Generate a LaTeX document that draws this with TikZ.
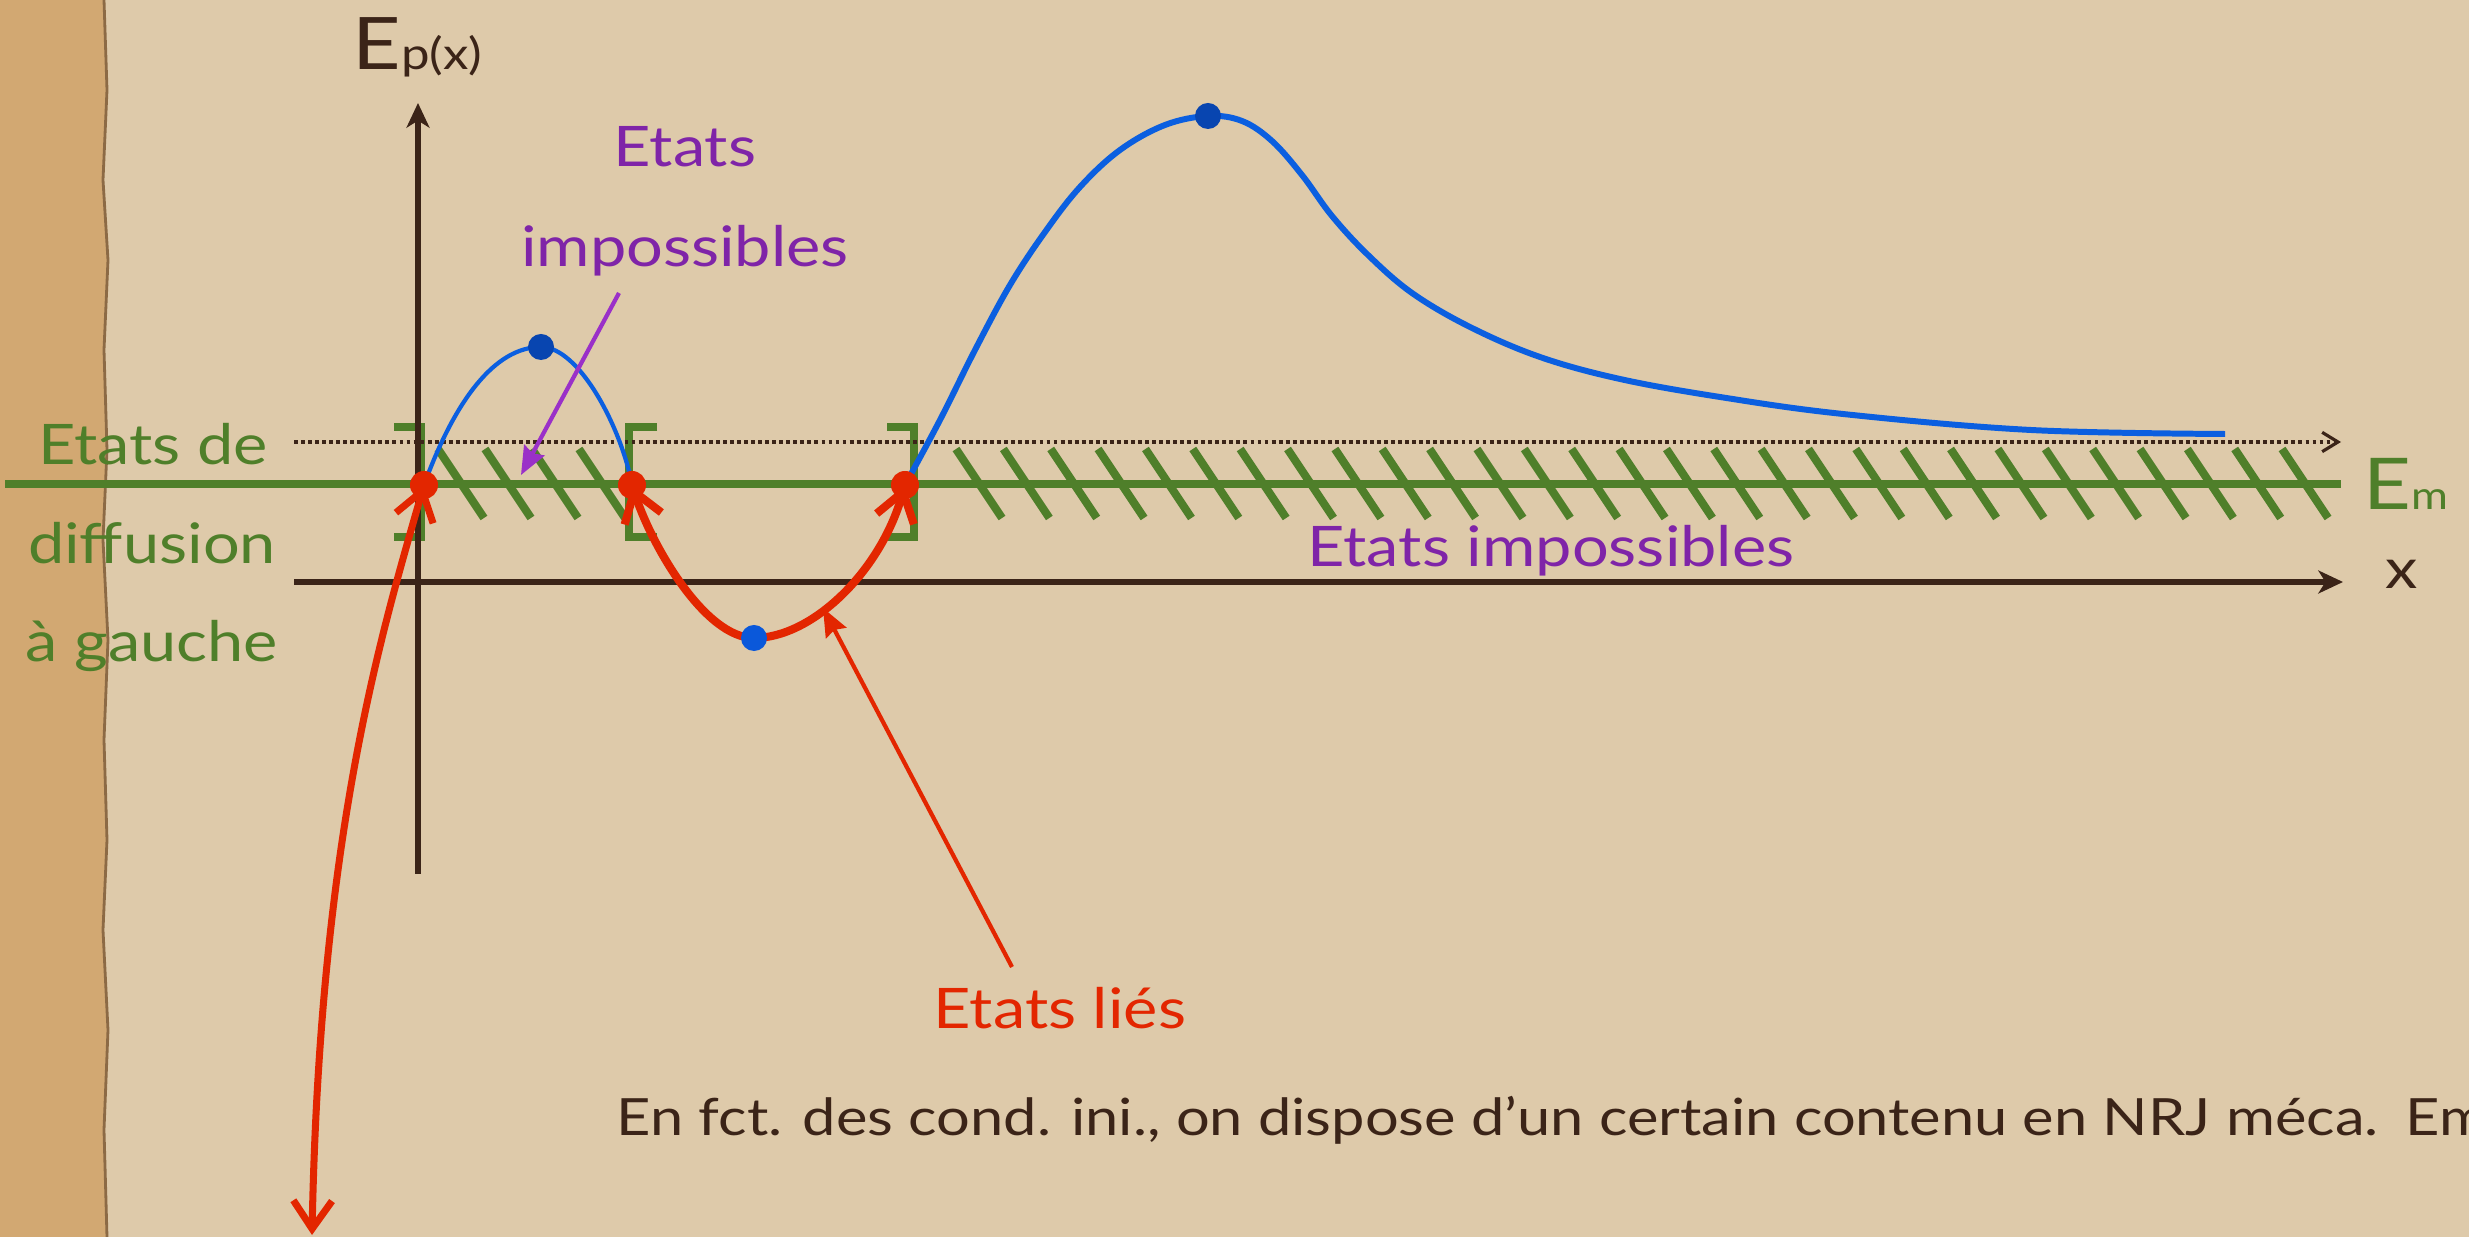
\documentclass[tikz,border=0pt]{standalone}
\usepackage{fontspec}
\setmainfont{Lato}[FakeStretch=1.16]
\usetikzlibrary{arrows.meta}
\definecolor{paper}{HTML}{DECAAA}
\definecolor{sand}{HTML}{D2A872}
\definecolor{sandedge}{HTML}{8C6A45}
\definecolor{axisbrown}{HTML}{3B2418}
\definecolor{emgreen}{HTML}{4F7F2A}
\definecolor{curveblue}{HTML}{0B5FE0}
\definecolor{dotblue}{HTML}{0845B0}
\definecolor{dotblueb}{HTML}{0A58DA}
\definecolor{redc}{HTML}{E32600}
\definecolor{purplec}{HTML}{7F24A8}
\definecolor{purplearrow}{HTML}{9A30C8}
\begin{document}
\begin{tikzpicture}[x=0.01cm,y=-0.01cm,
  txt/.style={inner sep=0pt, font=\fontsize{15.9}{19}\selectfont},
  axisline/.style={axisbrown, line width=1.6pt, -{Stealth[length=7pt,width=6.5pt,inset=2pt]}},
  hatchline/.style={emgreen, line width=2.3pt},
  bracketline/.style={emgreen, line width=2.4pt},
  barbline/.style={redc, line width=2pt, {Straight Barb[length=8pt,width=11pt]}-{Straight Barb[length=8pt,width=11pt]}},
  pointer/.style={line width=1.2pt, -{Stealth[length=8pt,width=6.5pt,inset=1pt]}},
  reddot/.style={circle, fill=redc, inner sep=0pt, minimum size=0.28cm},
  bluedot/.style={circle, fill=dotblue, inner sep=0pt, minimum size=0.26cm},
]
\useasboundingbox (0,0) rectangle (2469,1237);
\clip (0,0) rectangle (2469,1237);
% background
\fill[paper] (0,0) rectangle (2469,1237);
\fill[sand] (0,0) -- (104,0) -- (107,90) -- (103,180) -- (108,260) -- (104,350) -- (107,450) -- (103,540) -- (108,640) -- (104,740) -- (107,840) -- (103,930) -- (108,1030) -- (104,1130) -- (107,1237) -- (0,1237) -- cycle;
\draw[sandedge, line width=0.8pt] (104,0) -- (107,90) -- (103,180) -- (108,260) -- (104,350) -- (107,450) -- (103,540) -- (108,640) -- (104,740) -- (107,840) -- (103,930) -- (108,1030) -- (104,1130) -- (107,1237);

% coordinates
\coordinate (emL) at (5,484);
\coordinate (emR) at (2341,484);
\coordinate (dotL) at (294,442);
\coordinate (dotR) at (2341,442);
\coordinate (xaxL) at (294,582);
\coordinate (xaxR) at (2343,582);
\coordinate (yaxB) at (418,874);
\coordinate (yaxT) at (418,103);
\coordinate (pA) at (424,485);
\coordinate (pB) at (632,485);
\coordinate (pC) at (905,485);
\coordinate (maxA) at (541,347);
\coordinate (minB) at (754,638);
\coordinate (maxC) at (1208,116);
\coordinate (bottomEnd) at (312,1235);

% energy level line and hatches
\draw[emgreen, line width=2.1pt] (emL) -- (emR);
\foreach \x in {438,485,532,579} \draw[hatchline] (\x,449) -- ++(46,69);
\foreach \k in {0,...,28} \draw[hatchline] ({956+47.36*\k},449) -- ++(46,69);

% brackets
\draw[bracketline] (394,427) -- (421,427) -- (421,537) -- (394,537);
\draw[bracketline] (657,427) -- (629,427) -- (629,537) -- (657,537);
\draw[bracketline] (887,427) -- (914,427) -- (914,537) -- (887,537);

% dotted line
\draw[axisbrown, line width=0.9pt, dash pattern=on 1.1pt off 0.9pt, -{Straight Barb[length=4.5pt,width=5.5pt]}] (dotL) -- (dotR);

% axes
\draw[axisline] (yaxB) -- (yaxT);
\draw[axisline] (xaxL) -- (xaxR);

% potential curve
\draw[curveblue, line width=1.2pt] (pA) .. controls (455,400) and (495,347) .. (maxA)
  .. controls (580,347) and (622,430) .. (pB)
  .. controls (652,546) and (705,638) .. (minB)
  .. controls (812,638) and (880,572) .. (pC);
\draw[curveblue, line width=1.7pt] plot[smooth, tension=0.6] coordinates {(905,485) (940,420) (975,350) (1010,285) (1045,232) (1080,187) (1120,150) (1165,125) (1208,116) (1242,121) (1272,141) (1302,175) (1332,216) (1368,255) (1412,293) (1470,327) (1540,357) (1620,379) (1720,397) (1843,414) (2031,430) (2225,434)};

% red arrows
\draw[barbline] (pA) .. controls (380.5,637) and (320,835) .. (bottomEnd);
\draw[barbline, line width=2.3pt] (pB) .. controls (652,546) and (705,638) .. (minB)
  .. controls (812,638) and (880,572) .. (pC);

% dots
\node[reddot] (dA) at (pA) {};
\node[reddot] (dB) at (pB) {};
\node[reddot] (dC) at (pC) {};
\node[bluedot] (bA) at (maxA) {};
\node[bluedot, fill=dotblueb] (bB) at (minB) {};
\node[bluedot] (bC) at (maxC) {};

% labels
\node[inner sep=0pt, anchor=base west, text=axisbrown] (Ep) at (352,70) {\fontsize{20.6}{22}\selectfont E\fontsize{12.5}{14}\selectfont p(x)};
\node[inner sep=0pt, anchor=base west, text=emgreen] (Em) at (2363,510) {\fontsize{20.3}{22}\selectfont E\fontsize{11}{13}\selectfont m};
\node[txt, anchor=base, text=axisbrown] (xlab) at (2402,589) {x};
\node[txt, anchor=base, text=purplec] (etats1) at (685,167) {Etats};
\node[txt, anchor=base, text=purplec] (imp1) at (685,267) {impossibles};
\node[txt, anchor=base, text=emgreen] (diff1) at (153,465) {Etats de};
\node[txt, anchor=base, text=emgreen] (diff2) at (152,564) {diffusion};
\node[txt, anchor=base, text=emgreen] (diff3) at (152,662) {à gauche};
\node[txt, anchor=base, text=purplec] (imp2) at (1551,567) {Etats impossibles};
\node[txt, anchor=base, text=redc] (lies) at (1060,1028) {Etats liés};
\node[inner sep=0pt, font=\fontsize{14.6}{17}\selectfont, anchor=base west, text=axisbrown] (bottomtxt) at (616,1135) {En fct. des cond. ini., on dispose d’un certain contenu en NRJ méca.\hspace{0.27cm}Em};

% pointers
\coordinate (impTail) at (619,293);
\coordinate (impTip) at (521,475);
\coordinate (liesTail) at (1012,967);
\coordinate (liesTip) at (823,608);
\draw[pointer, purplearrow] (impTail) -- (impTip);
\draw[pointer, redc] (liesTail) -- (liesTip);
\end{tikzpicture}
\end{document}
